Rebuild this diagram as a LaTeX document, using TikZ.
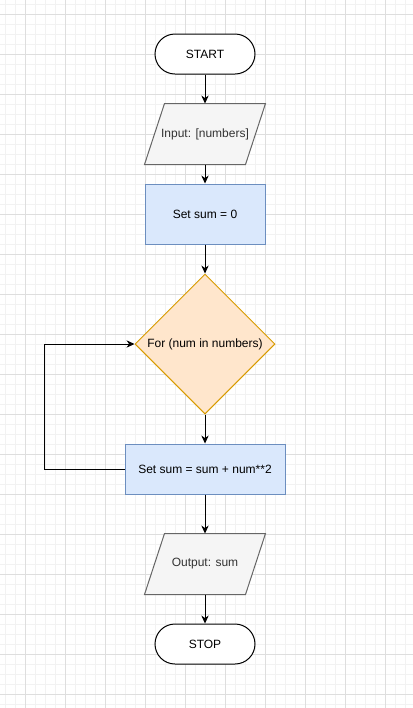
\documentclass[tikz,border=0pt]{standalone}
\usepackage{fontspec}
\setmainfont{Liberation Sans}
\usetikzlibrary{shapes.geometric,arrows.meta}

\definecolor{gridminor}{HTML}{F2F2F2}
\definecolor{gridmajor}{HTML}{DEDEDE}
\definecolor{iofill}{HTML}{F5F5F5}
\definecolor{iodraw}{HTML}{666666}
\definecolor{procfill}{HTML}{DAE8FC}
\definecolor{procdraw}{HTML}{6C8EBF}
\definecolor{decfill}{HTML}{FFE6CC}
\definecolor{decdraw}{HTML}{D79B00}

\pgfdeclarelayer{grid}
\pgfdeclarelayer{back}
\pgfsetlayers{grid,back,main}

\begin{document}
\begin{tikzpicture}[x=0.75pt,y=-0.75pt,
  every node/.style={font=\fontsize{9}{11}\selectfont, inner sep=0pt, line width=0.75pt},
  term/.style={draw=black, fill=white, rectangle, rounded corners=15pt,
    minimum width=75pt, minimum height=30pt},
  io/.style={rectangle, text=black!80, minimum width=75pt, minimum height=45pt},
  proc/.style={draw=procdraw, fill=procfill, rectangle, minimum height=45pt},
  dec/.style={draw=decdraw, fill=decfill, diamond, aspect=1,
    minimum width=105pt, minimum height=105pt},
  arr/.style={-{Stealth[length=6pt,width=5.5pt]}, line width=0.75pt}]

  \begin{pgfonlayer}{grid}
  \useasboundingbox (0,0) rectangle (413,708);
  \fill[white] (0,0) rectangle (413,708);
  % grid
  \foreach \x in {5,15,...,405}{
    \draw[gridminor,line width=0.75pt](\x,0)-- (\x,708);
  }
  \foreach \y in {4,14,...,704}{
    \draw[gridminor,line width=0.75pt](0,\y)-- (413,\y);
  }
  \foreach \x in {25,65,...,385}{
    \draw[gridmajor,line width=0.75pt](\x,0)-- (\x,708);
  }
  \foreach \y in {14,54,...,694}{
    \draw[gridmajor,line width=0.75pt](0,\y)-- (413,\y);
  }
  \end{pgfonlayer}

  \node[term] (start) at (205,54) {START};
  \node[io] (input) at (205,134) {Input: [numbers]};
  \node[proc, minimum width=90pt] (init) at (205,214) {Set sum = 0};
  \node[dec] (loop) at (205,344) {For (num in numbers)};
  \node[proc, minimum width=120pt, minimum height=37.5pt] (body) at (205,469) {Set sum = sum + num**2};
  \node[io] (output) at (205,564) {Output: sum};
  \node[term] (stop) at (205,644) {STOP};

  % parallelograms behind the io nodes
  \begin{pgfonlayer}{back}
  \foreach \n in {input,output}{
    \draw[iodraw, fill=iofill, line width=0.75pt]
      ([xshift=-7.5pt]\n.south west) -- ([xshift=7.5pt]\n.north west)
      -- ([xshift=7.5pt]\n.north east) -- ([xshift=-7.5pt]\n.south east) -- cycle;
  }
  \end{pgfonlayer}

  \draw[arr] (start) -- (input);
  \draw[arr] (input) -- (init);
  \draw[arr] (init) -- (loop);
  \draw[arr] (loop) -- (body);
  \draw[arr] (body.west) -- ++(-80,0) |- (loop.west);
  \draw[arr] (body) -- (output);
  \draw[arr] (output) -- (stop);

\end{tikzpicture}
\end{document}
